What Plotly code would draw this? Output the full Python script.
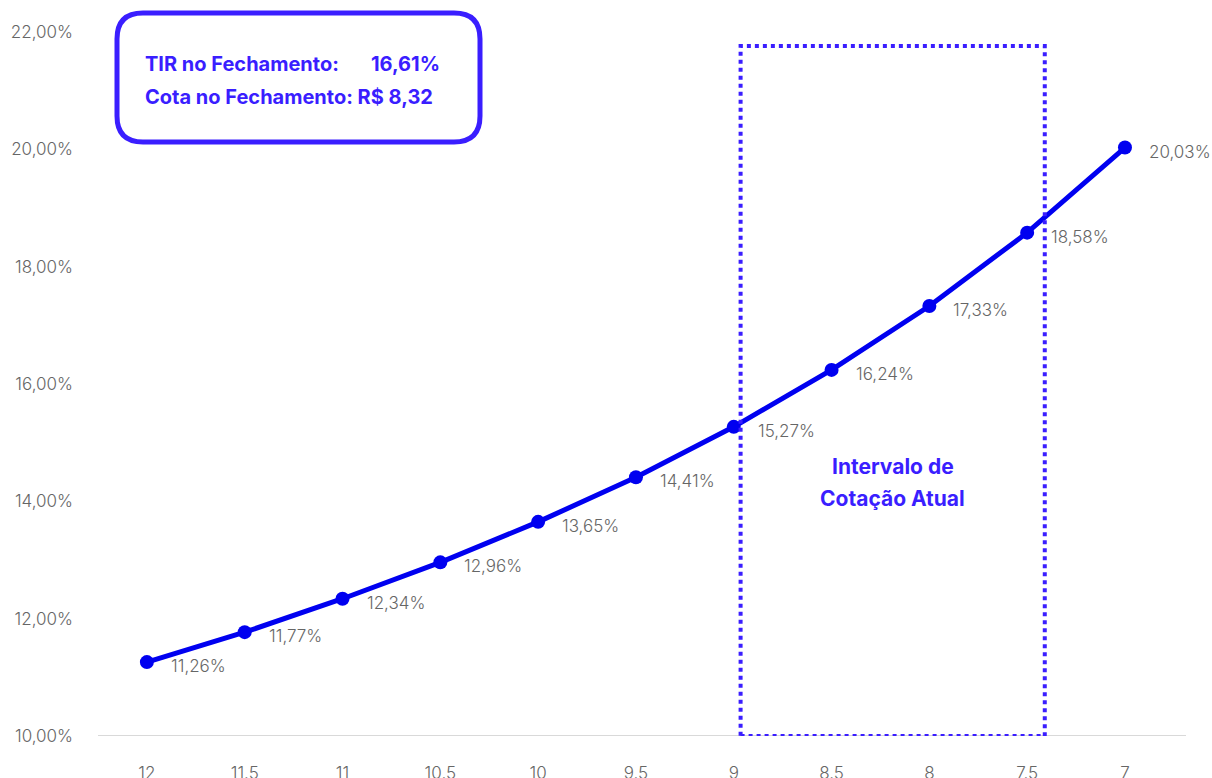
import plotly.graph_objects as go

cotas = ["12", "11.5", "11", "10.5", "10", "9.5", "9", "8.5", "8", "7.5", "7"]
tir = [11.26, 11.77, 12.34, 12.96, 13.65, 14.41, 15.27, 16.24, 17.33, 18.58, 20.03]
y_ticks = [10, 12, 14, 16, 18, 20, 22]
box_label1, box_value1 = "TIR no Fechamento:", "16,61%"
box_line2 = "Cota no Fechamento: R$ 8,32"
interval_lines = ["Intervalo de", "Cotação Atual"]
interval_x0, interval_x1, interval_top = 6.07, 9.18, 21.76

LINE = "#0000F0"
ACC = "#3A1EFF"
GRAY = "#666666"
FONT = "Inter, Lato, sans-serif"

W, H = 1212, 778
ml, mr, mt, mb = 98, 26, 32, 42
pw, ph = W - ml - mr, H - mt - mb

def fmt(v):
    return f"{v:.2f}".replace(".", ",") + "%"

idx = list(range(len(cotas)))
gray_font = dict(family=FONT, size=17, color=GRAY, weight=300)

fig = go.Figure()
fig.add_trace(go.Scatter(
    x=idx, y=tir, mode="lines+markers",
    line=dict(color=LINE, width=5),
    marker=dict(color=LINE, size=14),
    hoverinfo="skip", showlegend=False, cliponaxis=False,
))

for i, v in zip(idx, tir):
    fig.add_annotation(x=i, y=v, xref="x", yref="y", text=fmt(v), showarrow=False,
                       xanchor="left", yanchor="middle", xshift=22, yshift=-4,
                       font=gray_font)

# dotted interval rectangle
fig.add_shape(type="rect", xref="x", yref="y",
              x0=interval_x0, x1=interval_x1, y0=10, y1=interval_top,
              line=dict(color=ACC, width=4, dash="dot"), layer="above")

for t, ys in zip(interval_lines, [0, -32]):
    fig.add_annotation(x=(interval_x0 + interval_x1) / 2, y=14.6,
                       xref="x", yref="y", text=t, showarrow=False, yshift=ys,
                       align="center", font=dict(family=FONT, size=21, color=ACC,
                                                 weight="bold"))

# rounded text box (pixel geometry converted to paper coordinates)
def px(xp):
    return (xp - ml) / pw
def py(yp):
    return (H - mb - yp) / ph

x0, x1, y0, y1, r = 117, 480, 13, 142, 26
path = (f"M {px(x0 + r)},{py(y0)} L {px(x1 - r)},{py(y0)} "
        f"Q {px(x1)},{py(y0)} {px(x1)},{py(y0 + r)} "
        f"L {px(x1)},{py(y1 - r)} Q {px(x1)},{py(y1)} {px(x1 - r)},{py(y1)} "
        f"L {px(x0 + r)},{py(y1)} Q {px(x0)},{py(y1)} {px(x0)},{py(y1 - r)} "
        f"L {px(x0)},{py(y0 + r)} Q {px(x0)},{py(y0)} {px(x0 + r)},{py(y0)} Z")
fig.add_shape(type="path", xref="paper", yref="paper", path=path,
              line=dict(color=ACC, width=5), fillcolor="white", layer="above")

box_font = dict(family=FONT, size=20, color=ACC, weight="bold")
fig.add_annotation(x=px(143), y=py(64), xref="paper", yref="paper", text=box_label1,
                   showarrow=False, xanchor="left", yanchor="middle", font=box_font)
fig.add_annotation(x=px(442), y=py(64), xref="paper", yref="paper", text=box_value1,
                   showarrow=False, xanchor="right", yanchor="middle", font=box_font)
fig.add_annotation(x=px(143), y=py(97), xref="paper", yref="paper", text=box_line2,
                   showarrow=False, xanchor="left", yanchor="middle", font=box_font)

fig.update_layout(
    width=W, height=H,
    margin=dict(l=ml, r=mr, t=mt, b=mb, autoexpand=False),
    paper_bgcolor="white", plot_bgcolor="white",
    separators=",.",
    font=dict(family=FONT, color=GRAY, size=17),
    xaxis=dict(tickmode="array", tickvals=idx, ticktext=cotas,
               showgrid=False, zeroline=False, showline=False, automargin=False,
               ticks="", ticklabelstandoff=25, tickfont=gray_font,
               range=[-0.5, 10.624]),
    yaxis=dict(range=[10, 22], tickvals=y_ticks, ticktext=[fmt(v) for v in y_ticks],
               showgrid=False, zeroline=False, showline=False, ticks="", automargin=False,
               ticklabelstandoff=24, tickfont=gray_font),
)
fig.add_shape(type="line", xref="paper", yref="y", x0=0, x1=1, y0=10, y1=10,
              line=dict(color="#d9d9d9", width=2), layer="below")

fig.write_html("out.html")
